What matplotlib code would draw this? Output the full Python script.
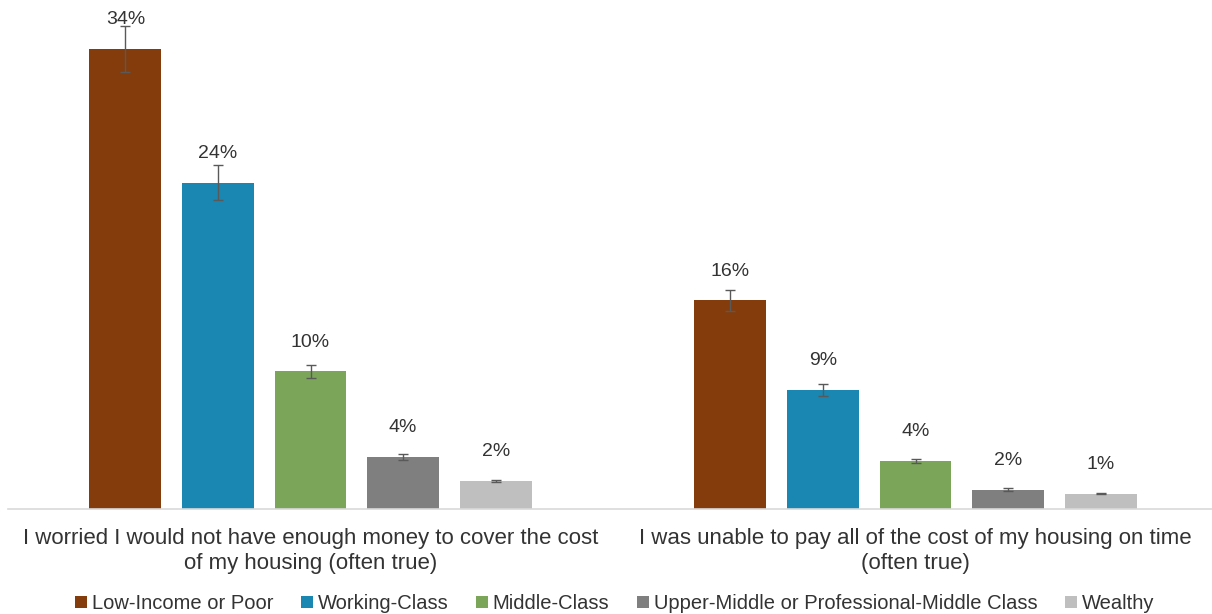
import numpy as np
import matplotlib
matplotlib.use("Agg")
import matplotlib.pyplot as plt

categories = [
    "I worried I would not have enough money to cover the cost\nof my housing (often true)",
    "I was unable to pay all of the cost of my housing on time\n(often true)",
]
groups = [
    "Low-Income or Poor",
    "Working-Class",
    "Middle-Class",
    "Upper-Middle or Professional-Middle Class",
    "Wealthy",
]
values = [
    [34.4, 15.6],
    [24.4, 8.9],
    [10.3, 3.6],
    [3.9, 1.45],
    [2.1, 1.15],
]
errors = [
    [1.75, 0.8],
    [1.3, 0.45],
    [0.5, 0.15],
    [0.22, 0.1],
    [0.1, 0.05],
]
labels = [
    ["34%", "16%"],
    ["24%", "9%"],
    ["10%", "4%"],
    ["4%", "2%"],
    ["2%", "1%"],
]
colors = ["#843C0C", "#1A87B2", "#7BA65A", "#7F7F7F", "#BFBFBF"]

plt.rcParams["font.family"] = ["Liberation Sans", "DejaVu Sans"]
text_color = "#333333"

fig = plt.figure(figsize=(12.12, 6.14), dpi=100)
ax = fig.add_axes([8 / 1212, 105 / 614, 1210 / 1212, 509 / 614])

x = np.arange(len(categories))
width = 0.119
step = 0.153
for i, (name, vals, errs, labs, col) in enumerate(zip(groups, values, errors, labels, colors)):
    pos = x + (i - 2) * step
    ax.bar(pos, vals, width, color=col, label=name,
           yerr=errs, error_kw=dict(ecolor="#595959", elinewidth=1, capsize=3.5, capthick=1))
    for px, v, lab in zip(pos, vals, labs):
        ax.annotate(lab, (px, v), xytext=(0, 21), textcoords="offset points",
                    ha="center", va="center", fontsize=14, color=text_color)

ax.set_xlim(-0.5, 1.5)
ax.set_ylim(0, 38.07)
ax.set_yticks([])
ax.set_xticks(x)
ax.set_xticklabels(categories, fontsize=16, color=text_color, linespacing=1.25)
ax.tick_params(axis="x", length=0, pad=14)
for side in ["top", "right", "left"]:
    ax.spines[side].set_visible(False)
ax.spines["bottom"].set_color("#D9D9D9")
ax.spines["bottom"].set_linewidth(1.2)

fig.legend(loc="center", bbox_to_anchor=(0.507, 0.017), ncol=5, frameon=False,
           fontsize=14.5, handlelength=0.6, handleheight=0.6, handletextpad=0.25,
           columnspacing=1.35, labelcolor=text_color)

fig.savefig("out.png", dpi=100)
